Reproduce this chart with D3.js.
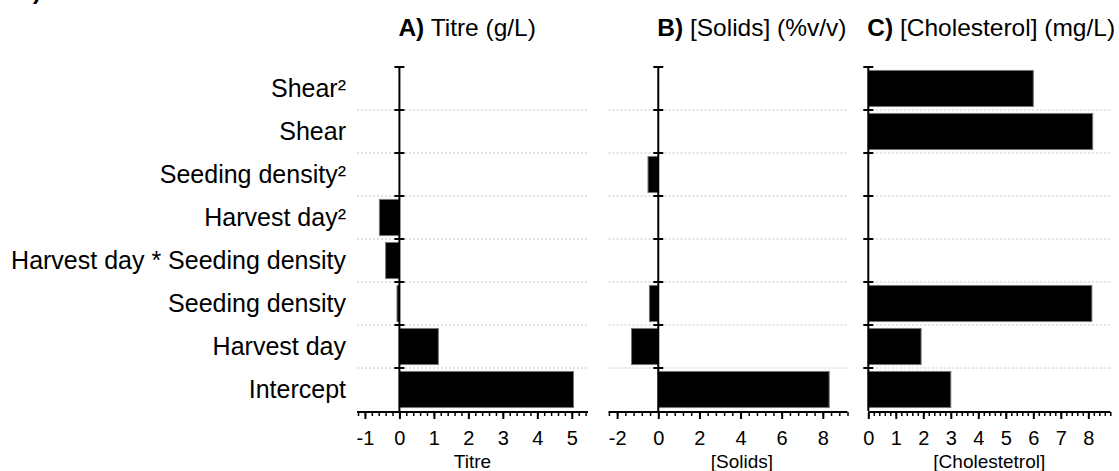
<!DOCTYPE html>
<html><head><meta charset="utf-8">
<script src="https://cdn.jsdelivr.net/npm/d3@7"></script>
<style>
body{margin:0;background:#fff;}
text{font-family:"Liberation Sans",Arial,Helvetica,sans-serif;fill:#000;}
</style></head>
<body><svg id="c" width="1119" height="471"></svg>
<script>
const categories = ["Shear²","Shear","Seeding density²","Harvest day²","Harvest day * Seeding density","Seeding density","Harvest day","Intercept"];
const titreValues = [0, 0, 0, -0.58, -0.4, -0.07, 1.13, 5.05];
const solidsValues = [0, 0, -0.5, 0, 0, -0.43, -1.3, 8.31];
const cholValues = [6.0, 8.16, 0, 0, 0, 8.13, 1.92, 3.0];
const titreTicks = [-1, 0, 1, 2, 3, 4, 5];
const solidsTicks = [-2, 0, 2, 4, 6, 8];
const cholTicks = [0, 1, 2, 3, 4, 5, 6, 7, 8];
const panelLetters = ["A)", "B)", "C)"];
const panelTitles = [" Titre (g/L)", " [Solids] (%v/v)", " [Cholesterol] (mg/L)"];
const axisTitles = ["Titre", "[Solids]", "[Cholestetrol]"];

const svg = d3.select("#c");
const plotTop = 67, plotBottom = 411;
const y = d3.scaleBand().domain(categories).range([plotTop, plotBottom]).paddingInner(0.16).paddingOuter(0.08);
const yEdge = d3.scaleLinear().domain([0, categories.length]).range([plotTop, plotBottom]);

const panels = [
  {vals: titreValues, ticks: titreTicks, domain: [-1.23, 5.47], range: [357, 588], minor: 0.2, titleShift: 0},
  {vals: solidsValues, ticks: solidsTicks, domain: [-2.42, 9.2], range: [608.5, 847.5], minor: 0.4, titleShift: 14},
  {vals: cholValues, ticks: cholTicks, domain: [0, 8.8], range: [868.3, 1110.3], minor: 0.2, titleShift: 0}
];

// category labels
svg.append("g").selectAll("text").data(categories).join("text")
  .attr("x", 346).attr("y", d => y(d) + y.bandwidth() / 2)
  .attr("dy", "0.35em").attr("text-anchor", "end")
  .style("font-size", "25px").text(d => d);

// clipped fragment top-left
svg.append("text").attr("x", 41).attr("y", -1).attr("text-anchor", "end")
  .style("font-size", "24px").style("font-weight", "bold").text("b)");

panels.forEach((p, i) => {
  const x = d3.scaleLinear().domain(p.domain).range(p.range);
  const g = svg.append("g");
  // gridlines
  g.selectAll("line.grid").data(d3.range(1, categories.length)).join("line")
    .attr("x1", p.range[0]).attr("x2", p.range[1])
    .attr("y1", d => yEdge(d)).attr("y2", d => yEdge(d))
    .attr("stroke", "#c4c4c4").attr("stroke-width", 1).attr("stroke-dasharray", "2,2");
  // bars
  const data = categories.map((c, k) => ({c, v: p.vals[k]})).filter(d => d.v !== 0);
  g.selectAll("rect").data(data).join("rect")
    .attr("x", d => x(Math.min(0, d.v))).attr("width", d => Math.abs(x(d.v) - x(0)))
    .attr("y", d => y(d.c)).attr("height", y.bandwidth())
    .attr("fill", "#000").attr("stroke", "#777").attr("stroke-width", 1);
  // y axis at zero
  const x0 = x(0);
  g.append("line").attr("x1", x0).attr("x2", x0).attr("y1", plotTop).attr("y2", plotBottom)
    .attr("stroke", "#000").attr("stroke-width", 2);
  g.selectAll("line.yt").data(d3.range(0, categories.length)).join("line")
    .attr("x1", x0 - 5).attr("x2", x0 + 5)
    .attr("y1", d => yEdge(d)).attr("y2", d => yEdge(d))
    .attr("stroke", "#000").attr("stroke-width", 2);
  // x axis minor
  const minors = d3.range(Math.ceil(p.domain[0] / p.minor - 1e-9), Math.floor(p.domain[1] / p.minor + 1e-9) + 1)
    .map(k => +(k * p.minor).toFixed(4));
  const axMinor = d3.axisBottom(x).tickValues(minors).tickSize(4).tickFormat("");
  const gm = g.append("g").attr("transform", `translate(0,${plotBottom + 1})`).call(axMinor);
  gm.select(".domain").remove();
  gm.selectAll("line").attr("stroke-width", 1.5);
  // x axis major
  const ax = d3.axisBottom(x).tickValues(p.ticks).tickSize(7).tickSizeOuter(0).tickFormat(d3.format("d"));
  const ga = g.append("g").attr("transform", `translate(0,${plotBottom + 1})`).call(ax);
  ga.select(".domain").attr("stroke-width", 2).attr("d", `M${p.range[0]},0H${p.range[1]}`);
  ga.selectAll("line").attr("stroke-width", 2);
  ga.selectAll("text").style("font-size", "20px").attr("y", 33).attr("dy", null)
    .text(d => d < 0 ? "-" + Math.abs(d) : d);
  // axis title
  svg.append("text").attr("x", (p.range[0] + p.range[1]) / 2 + p.titleShift).attr("y", 468)
    .attr("text-anchor", "middle").style("font-size", "19px").text(axisTitles[i]);
  // panel title, left-aligned at the zero line
  const t = svg.append("text").attr("x", x0 - 1).attr("y", 36).style("font-size", "24.5px");
  t.append("tspan").style("font-weight", "bold").text(panelLetters[i]);
  t.append("tspan").text(panelTitles[i]);
});
</script></body></html>
